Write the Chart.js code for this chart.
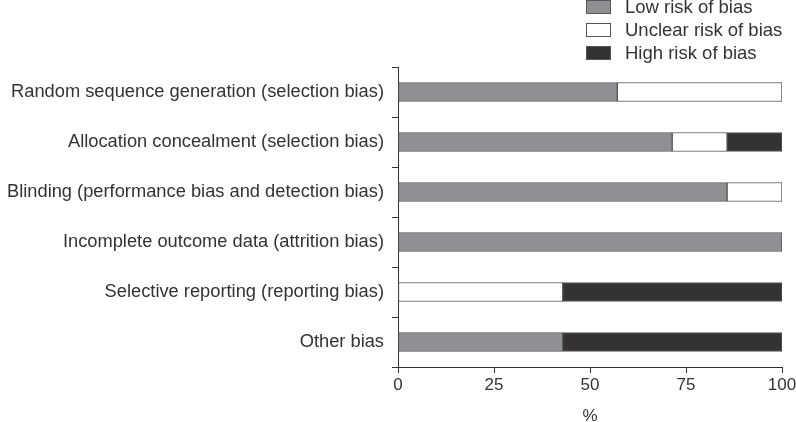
<!DOCTYPE html>
<html>
<head>
<meta charset="utf-8">
<script src="https://cdn.jsdelivr.net/npm/chart.js@4"></script>
<style>
  html, body { margin: 0; padding: 0; background: #fff; }
  #wrap { width: 796px; height: 422px; }
</style>
</head>
<body>
<div id="wrap"><canvas id="chart" width="796" height="422"></canvas></div>
<script>
const categories = [
    'Random sequence generation (selection bias)',
    'Allocation concealment (selection bias)',
    'Blinding (performance bias and detection bias)',
    'Incomplete outcome data (attrition bias)',
    'Selective reporting (reporting bias)',
    'Other bias'
];
const lowRisk     = [57.1, 71.4, 85.7, 100, 0, 42.9];
const unclearRisk = [42.9, 14.3, 14.3, 0, 42.9, 0];
const highRisk    = [0, 14.3, 0, 0, 57.1, 57.1];
const xTicks = [0, 25, 50, 75, 100];

const FONT = '"Liberation Sans", Arial, sans-serif';
const INK = '#333';

// legend drawn by hand, top right
const boxLegend = {
    id: 'boxLegend',
    afterDraw(chart) {
        const ctx = chart.ctx;
        ctx.save();
        ctx.font = '18.5px ' + FONT;
        ctx.textBaseline = 'middle';
        chart.data.datasets.forEach((ds, i) => {
            const y = 0.5 + i * 23;
            ctx.fillStyle = ds.backgroundColor;
            ctx.fillRect(586.5, y, 24, 13);
            ctx.strokeStyle = '#555';
            ctx.lineWidth = 1;
            ctx.strokeRect(586.5, y, 24, 13);
            ctx.fillStyle = INK;
            ctx.fillText(ds.label, 625, y + 7);
        });
        ctx.restore();
    }
};

new Chart(document.getElementById('chart'), {
    type: 'bar',
    data: {
        labels: categories,
        datasets: [
            { label: 'Low risk of bias', data: lowRisk, backgroundColor: '#8f9094' },
            { label: 'Unclear risk of bias', data: unclearRisk, backgroundColor: '#ffffff' },
            { label: 'High risk of bias', data: highRisk, backgroundColor: '#343234' }
        ].map(d => Object.assign(d, { borderColor: '#555', borderWidth: 1, barThickness: 19, borderSkipped: false }))
    },
    options: {
        indexAxis: 'y',
        responsive: false,
        animation: false,
        layout: { padding: { top: 67, right: 14, left: 0, bottom: 0 } },
        plugins: { legend: { display: false }, tooltip: { enabled: false } },
        scales: {
            x: {
                stacked: true, min: 0, max: 100,
                afterBuildTicks: s => { s.ticks = xTicks.map(v => ({ value: v })); },
                afterFit: s => { s.height = 55; s.paddingRight = 0; s.paddingLeft = 0; },
                ticks: { color: INK, font: { family: FONT, size: 17 }, padding: 2 },
                grid: { drawOnChartArea: false, tickLength: 6, color: '#333' },
                border: { color: '#333', width: 1 },
                title: { display: true, text: '%', color: INK, font: { family: FONT, size: 17 }, padding: { top: 4, bottom: -5 } }
            },
            y: {
                stacked: true,
                afterFit: s => { s.width = 398; },
                ticks: { color: INK, font: { family: FONT, size: 18.3 }, padding: 8 },
                grid: { drawOnChartArea: false, offset: true, tickLength: 6, color: '#333' },
                border: { color: '#333', width: 1 }
            }
        }
    },
    plugins: [boxLegend]
});
</script>
</body>
</html>
